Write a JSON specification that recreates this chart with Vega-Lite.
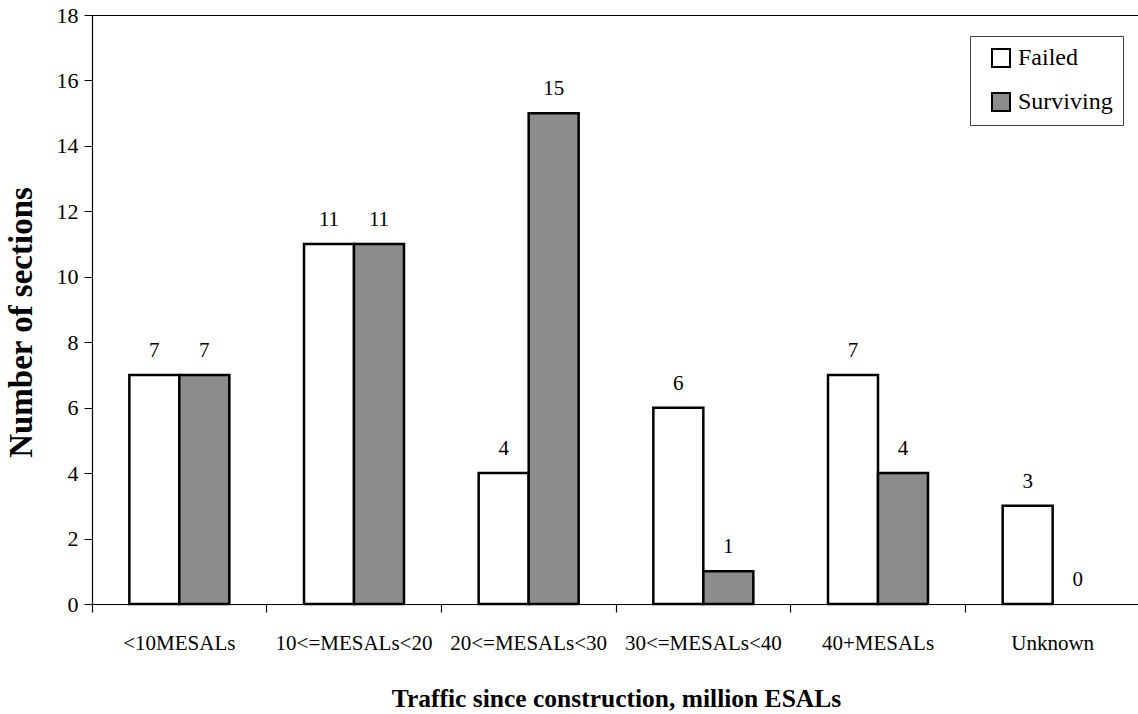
{
  "$schema": "https://vega.github.io/schema/vega-lite/v6.json",
  "autosize": "none",
  "width": 1048,
  "height": 589,
  "padding": {"left": 92, "top": 15, "right": 0, "bottom": 110},
  "background": "white",
  "config": {
    "font": "Liberation Serif, Times New Roman, serif",
    "view": {"stroke": "black", "strokeWidth": 1},
    "axis": {"labelFont": "Liberation Serif, Times New Roman, serif", "titleFont": "Liberation Serif, Times New Roman, serif", "labelColor": "black", "titleColor": "black", "domainColor": "black", "tickColor": "black"},
    "legend": {"labelFont": "Liberation Serif, Times New Roman, serif"}
  },
  "data": {
    "values": [
      {"category": "<10MESALs", "status": "Failed", "value": 7},
      {"category": "<10MESALs", "status": "Surviving", "value": 7},
      {"category": "10<=MESALs<20", "status": "Failed", "value": 11},
      {"category": "10<=MESALs<20", "status": "Surviving", "value": 11},
      {"category": "20<=MESALs<30", "status": "Failed", "value": 4},
      {"category": "20<=MESALs<30", "status": "Surviving", "value": 15},
      {"category": "30<=MESALs<40", "status": "Failed", "value": 6},
      {"category": "30<=MESALs<40", "status": "Surviving", "value": 1},
      {"category": "40+MESALs", "status": "Failed", "value": 7},
      {"category": "40+MESALs", "status": "Surviving", "value": 4},
      {"category": "Unknown", "status": "Failed", "value": 3},
      {"category": "Unknown", "status": "Surviving", "value": 0}
    ]
  },
  "resolve": {"axis": {"x": "independent"}},
  "layer": [
    {
      "mark": {"type": "bar", "stroke": "black", "strokeWidth": 2.5},
      "encoding": {
        "x": {
          "field": "category", "type": "nominal", "sort": null,
          "scale": {"paddingInner": 0, "paddingOuter": 0},
          "axis": {
            "orient": "bottom",
            "title": "Traffic since construction, million ESALs",
            "titleFontSize": 25.5, "titleFontWeight": "bold", "titlePadding": 33,
            "labelFontSize": 21, "labelAngle": 0, "labelPadding": 28,
            "ticks": false, "tickSize": 0, "domainWidth": 1.2
          }
        },
        "xOffset": {
          "field": "status", "type": "nominal",
          "scale": {"paddingInner": 0, "paddingOuter": 0.747}
        },
        "y": {
          "field": "value", "type": "quantitative",
          "scale": {"domain": [0, 18], "nice": false},
          "axis": {
            "title": "Number of sections", "titleFontSize": 33, "titleFontWeight": "bold", "titlePadding": 18, "titleY": 307,
            "values": [0, 2, 4, 6, 8, 10, 12, 14, 16, 18],
            "labelFontSize": 22, "labelPadding": 6, "tickSize": 8, "grid": false, "domainWidth": 1.2
          }
        },
        "strokeOpacity": {
          "condition": {"test": "datum.value == 0", "value": 0},
          "value": 1
        },
        "color": {
          "field": "status", "type": "nominal",
          "scale": {"domain": ["Failed", "Surviving"], "range": ["white", "#8c8c8c"]},
          "legend": {
            "title": null, "orient": "none", "legendX": 878, "legendY": 21,
            "symbolType": "square", "symbolSize": 324, "symbolStrokeColor": "black", "symbolStrokeWidth": 2, "symbolOpacity": 1,
            "symbolOffset": 9,
            "labelFontSize": 24, "labelColor": "black", "labelOffset": 5,
            "rowPadding": 18, "padding": 10, "strokeColor": "#444", "fillColor": "white"
          }
        }
      }
    },
    {
      "mark": {"type": "text", "fontSize": 21, "font": "Liberation Serif, Times New Roman, serif", "baseline": "alphabetic", "dy": -18, "color": "black"},
      "encoding": {
        "x": {
          "field": "category", "type": "nominal", "sort": null,
          "axis": {"orient": "bottom", "title": null, "labels": false, "domain": false, "ticks": true, "tickSize": 8, "bandPosition": 0, "tickWidth": 1.2}
        },
        "xOffset": {"field": "status", "type": "nominal"},
        "y": {"field": "value", "type": "quantitative"},
        "text": {"field": "value", "type": "quantitative"}
      }
    }
  ]
}
